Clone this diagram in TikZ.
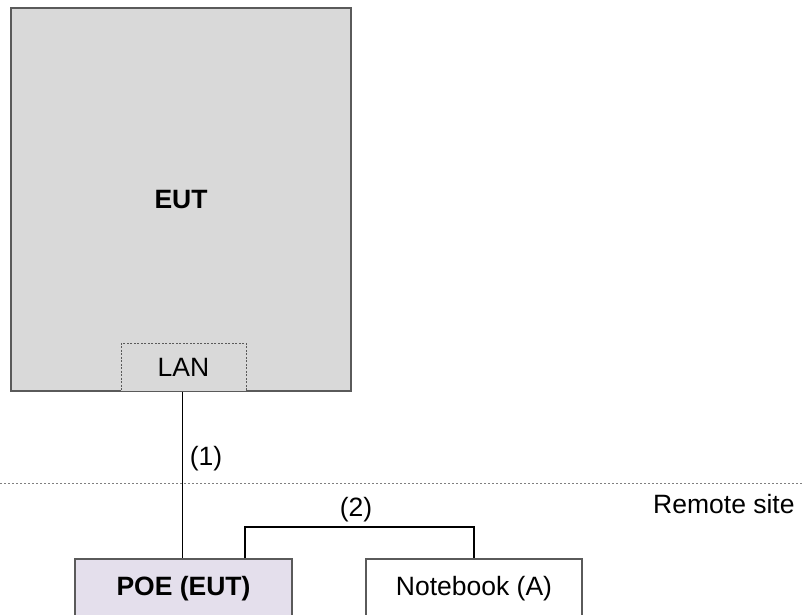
\documentclass[tikz,border=0pt]{standalone}
\usepackage{fontspec}
\setmainfont{Liberation Sans}
\definecolor{eutgray}{HTML}{D9D9D9}
\definecolor{boxgray}{HTML}{5A5A5A}
\definecolor{poefill}{HTML}{E4DFEC}
\definecolor{sepgray}{HTML}{808080}
\begin{document}
\begin{tikzpicture}[x=1pt,y=-1pt,
  font=\fontsize{26.5}{30}\selectfont,
  box/.style={draw=boxgray, line width=1.4pt, inner sep=0pt},
  link/.style={draw=black, line width=1pt},
  lbl/.style={inner sep=0pt}]
\clip (0,0) rectangle (802,614);
\fill[white] (0,0) rectangle (802,614);
% EUT
\node[box, fill=eutgray, minimum width=340pt, minimum height=383pt] (eut) at (181,199.5) {\bfseries EUT};
\node[draw=boxgray, line width=1pt, dash pattern=on 2pt off 1.5pt, fill=eutgray, inner sep=0pt,
      minimum width=125pt, minimum height=48pt] (lan) at (183.5,367) {LAN};
% separator
\coordinate (sepL) at (0,483);
\coordinate (sepR) at (802,483);
\draw[sepgray, line width=1pt, dash pattern=on 2pt off 2pt] (sepL) -- (sepR);
\node[lbl, anchor=west] (remote) at (653,504) {Remote site};
% remote devices
\node[box, fill=poefill, minimum width=217pt, minimum height=60pt] (poe) at (183.5,589) {\bfseries POE (EUT)};
\node[box, fill=white, minimum width=216pt, minimum height=60pt] (nb) at (474,589) {Notebook (A)};
% connectors
\draw[link] (lan.south -| 182,0) -- (poe.north -| 182,0);
\node[lbl] (l1) at (206,459) {(1)};
\draw[link, line width=1.8pt] ([xshift=61.5pt]poe.north) -- ++(0,-31.3) -| (nb.north);
\node[lbl] (l2) at (356,510) {(2)};
\end{tikzpicture}
\end{document}
